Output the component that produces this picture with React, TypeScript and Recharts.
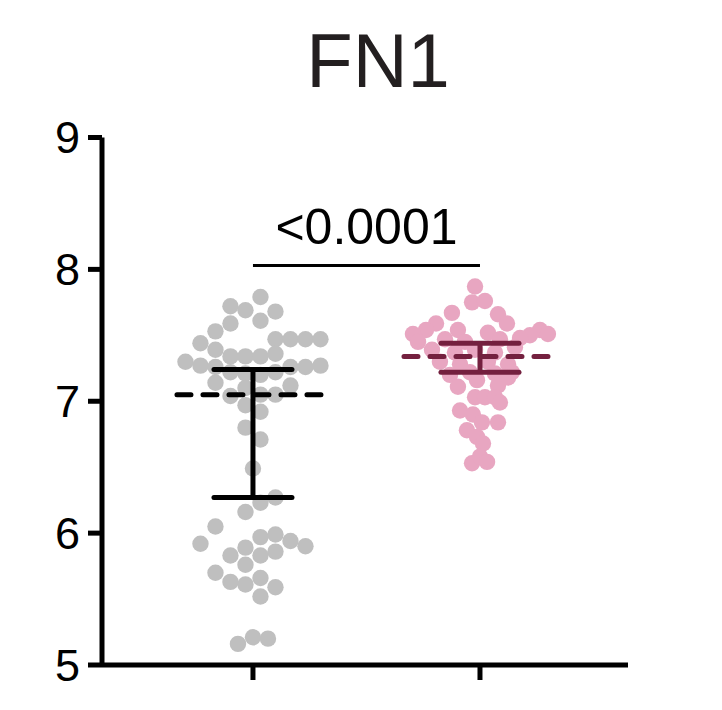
import { ScatterChart, Scatter, XAxis, YAxis, ReferenceLine } from 'recharts';

// group positions on the numeric x axis
const GROUPS = [1, 2];
const GROUP_COLORS = ['#BFBFBF', '#E8A6C1'];
const BAR_COLORS = ['#000000', '#74203F'];
const Y_TICKS = [5, 6, 7, 8, 9];

// beeswarm offsets (in dot slots) and values
const greySlots = [
  0.5, -1.5, -0.5, 1.5, 0.5, -1.5, -2.5, -3.5, 1.5, 2.5, 3.5, 4.5, -2.5, -1.5, -0.5, 0.5,
  1.5, -4.5, -3.5, -2.5, -1.5, -0.5, 0.5, 1.5, 2.5, 3.5, 4.5, -2.5, -0.5, 2.5, -1.5, 0.5,
  1.5, -0.5, 0.5, -0.5, 0.5, 0, 1.5, 0.5, -0.5, -2.5, -3.5, 0.5, 1.5, 2.5, 3.5, -1.5,
  -0.5, 0.5, 1.5, -0.5, -2.5, -1.5, -0.5, 0.5, 1.5, 0.5, -1, 0, 1,
];
const greyValues = [
  7.79, 7.72, 7.69, 7.68, 7.61, 7.59, 7.53, 7.44, 7.47, 7.47, 7.47, 7.47, 7.39, 7.34, 7.34, 7.34,
  7.36, 7.3, 7.27, 7.26, 7.22, 7.21, 7.2, 7.22, 7.26, 7.26, 7.27, 7.14, 7.1, 7.12, 7.04, 7.05,
  7.05, 6.97, 6.92, 6.8, 6.71, 6.49, 6.27, 6.23, 6.16, 6.05, 5.92, 5.97, 5.99, 5.94, 5.9, 5.83,
  5.89, 5.83, 5.86, 5.76, 5.7, 5.63, 5.61, 5.66, 5.59, 5.52, 5.16, 5.21, 5.2,
];

const pinkSlots = [
  -0.33, -0.53, 0.33, -1.87, 1.2, 1.8, -2.93, -3.6, -4.47, -1.47, 4.0, 4.53, 3.33, 0.53,
  -2.33, -1.0, 1.33, 2.67, -3.2, -1.67, -0.33, 1.0, 2.33, -2.67, -1.33, 0.53, 1.87, -2.0,
  -0.67, 1.0, 2.13, -0.2, 1.2, 1.87, -1.47, -0.33, 0.33, 1.0, 1.33, -1.33, -0.47, 0.13,
  1.2, -0.87, -0.2, 0.2, -0.53, 0, 0.47, -4.13,
];
const pinkValues = [
  7.87, 7.75, 7.76, 7.67, 7.66, 7.59, 7.59, 7.54, 7.51, 7.54, 7.54, 7.51, 7.5, 7.52,
  7.47, 7.45, 7.47, 7.48, 7.39, 7.37, 7.39, 7.37, 7.41, 7.3, 7.28, 7.3, 7.28, 7.2,
  7.22, 7.21, 7.22, 7.16, 7.12, 7.18, 7.11, 7.03, 7.03, 7.03, 6.99, 6.93, 6.9, 6.84,
  6.84, 6.78, 6.73, 6.68, 6.53, 6.58, 6.54, 7.45,
];

// summary lines: dashed centre line and bar with caps
const centers = [7.05, 7.34];
const barLow = [6.27, 7.22];
const barHigh = [7.24, 7.44];

const P_LABEL = '<0.0001';
const SIG_Y = 8.03;

const SLOT = 15 / 227; // one dot slot in x units

const FONT = '"Liberation Sans", Arial, sans-serif';

const greyData = greyValues.map((v, i) => ({ x: GROUPS[0] + greySlots[i] * SLOT, y: v }));
const pinkData = pinkValues.map((v, i) => ({ x: GROUPS[1] + pinkSlots[i] * SLOT, y: v }));

const dot = (color: string) => (p: any) => <circle cx={p.cx} cy={p.cy} r={8.2} fill={color} />;

// horizontal stroke centred on the point
const hLine = (color: string, half: number, dashed: boolean) => (p: any) => (
  <line
    x1={p.cx - half}
    x2={p.cx + half}
    y1={p.cy}
    y2={p.cy}
    stroke={color}
    strokeWidth={5}
    strokeLinecap="round"
    strokeDasharray={dashed ? '14 12' : undefined}
  />
);

export default function App() {
  return (
    <div style={{ position: 'absolute', left: 0, top: 0, width: 722, height: 710, background: '#fff' }}>
      <svg width={722} height={110} style={{ position: 'absolute', left: 0, top: 0 }}>
        <text x={378} y={87} textAnchor="middle" fontSize={76} fontFamily={FONT} fill="#231F20">
          FN1
        </text>
      </svg>
      <ScatterChart width={722} height={710} margin={{ top: 137.5, right: 94, bottom: 15, left: 0 }}>
        <XAxis
          type="number"
          dataKey="x"
          domain={[0.335, 2.652]}
          ticks={GROUPS}
          tickFormatter={() => ''}
          allowDataOverflow
          height={30}
          tickSize={15}
          axisLine={{ stroke: '#000', strokeWidth: 5 }}
          tickLine={{ stroke: '#000', strokeWidth: 5 }}
        />
        <YAxis
          type="number"
          dataKey="y"
          domain={[5, 9]}
          ticks={Y_TICKS}
          width={102}
          tickSize={14}
          tickMargin={8}
          axisLine={{ stroke: '#000', strokeWidth: 5 }}
          tickLine={{ stroke: '#000', strokeWidth: 5 }}
          tick={{ fontSize: 45, fill: '#000', fontFamily: FONT }}
        />
        <Scatter data={greyData} shape={dot(GROUP_COLORS[0])} isAnimationActive={false} />
        <Scatter data={pinkData} shape={dot(GROUP_COLORS[1])} isAnimationActive={false} />
        {GROUPS.map((g, i) => (
          <Scatter
            key={`bar${i}`}
            data={[{ x: g, y: barLow[i] }, { x: g, y: barHigh[i] }]}
            line={{ stroke: BAR_COLORS[i], strokeWidth: 5 }}
            lineType="joint"
            shape={hLine(BAR_COLORS[i], 39, false)}
            isAnimationActive={false}
          />
        ))}
        {GROUPS.map((g, i) => (
          <Scatter
            key={`mid${i}`}
            data={[{ x: g, y: centers[i] }]}
            shape={hLine(BAR_COLORS[i], 76, true)}
            isAnimationActive={false}
          />
        ))}
        <ReferenceLine
          segment={[{ x: GROUPS[0], y: SIG_Y }, { x: GROUPS[1], y: SIG_Y }]}
          stroke="#000"
          strokeWidth={3}
          label={{ value: P_LABEL, position: 'top', offset: 21, fontSize: 50, fill: '#000', fontFamily: FONT }}
        />
      </ScatterChart>
    </div>
  );
}
